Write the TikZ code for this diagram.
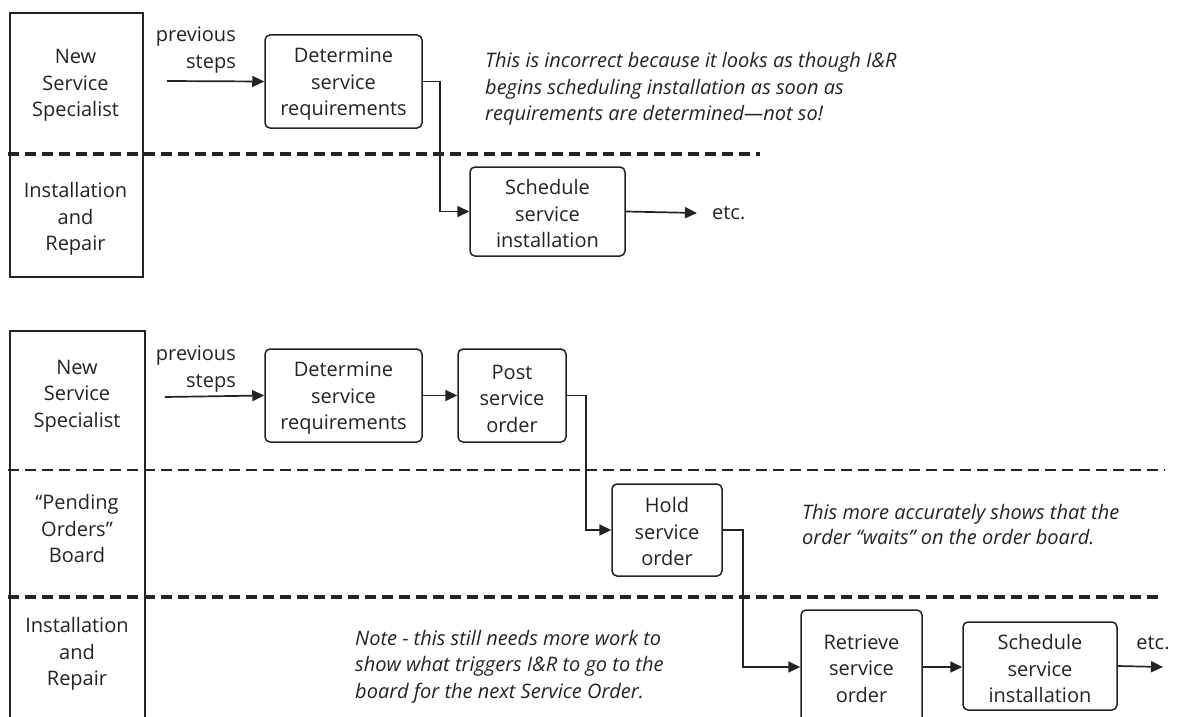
\documentclass[tikz,border=0pt]{standalone}
\usepackage{fontspec}
\setmainfont{Open Sans}
\usetikzlibrary{arrows.meta}
\definecolor{ink}{RGB}{35,35,35}
\tikzset{
  every node/.style={text=ink},
  txt/.style={font=\fontsize{20}{26.5}\selectfont, align=center, inner sep=0pt},
  itx/.style={font=\fontsize{20}{26.5}\selectfont\itshape, align=left, inner sep=0pt, anchor=west},
  procbox/.style={draw=ink, line width=1.5pt, rounded corners=5pt, txt, text depth=0pt},
  lanebox/.style={draw=ink, line width=1.4pt, inner sep=0pt},
  arr/.style={draw=ink, line width=1.7pt, -{Triangle[length=12pt,width=11pt]}},
  thickdash/.style={draw=ink, line width=3.5pt, dash pattern=on 11pt off 6pt},
  thindash/.style={draw=ink, line width=1.7pt, dash pattern=on 11pt off 6pt},
}
\begin{document}
\begin{tikzpicture}[x=1pt,y=-1pt]
\useasboundingbox (0,0) rectangle (1178,717);

% ---------- top diagram ----------
\node[lanebox, minimum width=133pt, minimum height=264pt] (lane1) at (76.5,145) {};
\node[txt] (l1a) at (75.5,85.5) {New\\Service\\Specialist};
\node[txt] (l1b) at (75.5,219) {Installation\\and\\Repair};
\coordinate (d1a) at (8,154);
\coordinate (d1b) at (760,154);
\draw[thickdash] (d1a) -- (d1b);

\node[txt, align=right, anchor=east] (prev1) at (236,50) {previous\\steps};
\coordinate (s1) at (167,81);
\node[procbox, minimum width=157pt, minimum height=93pt] (det1) at (343.5,81.5) {};
\node[txt] (det1t) at (343.5,84.5) {Determine\\service\\requirements};
\node[procbox, minimum width=155pt, minimum height=89pt] (sch1) at (547.5,211.5) {};
\node[txt] (sch1t) at (547.5,213.5) {Schedule\\service\\installation};
\node[txt, anchor=west] (etc1) at (712,213) {etc.};
\draw[arr] (s1) -- (det1.west);
\draw[arr] (det1.east) -- ++(17,0) |- (sch1.west);
\draw[arr] (sch1.east) -- ([xshift=-15pt]etc1.west);
\node[itx] (note1) at (485,89) {This is incorrect because it looks as though I\&R\\begins scheduling installation as soon as\\requirements are determined---not so!};

% ---------- bottom diagram ----------
\node[lanebox, minimum width=135pt, minimum height=409pt] (lane2) at (77.5,535.5) {};
\node[txt] (l2a) at (77,396) {New\\Service\\Specialist};
\node[txt] (l2b) at (77,528.5) {``Pending\\Orders''\\Board};
\node[txt] (l2c) at (77,654) {Installation\\and\\Repair};
\coordinate (d2a) at (8,470);
\coordinate (d2b) at (1165,470);
\draw[thindash] (d2a) -- (d2b);
\coordinate (d3a) at (8,597);
\coordinate (d3b) at (1163,597);
\draw[thickdash] (d3a) -- (d3b);

\node[txt, align=right, anchor=east] (prev2) at (236,369) {previous\\steps};
\coordinate (s2) at (165,397);
\node[procbox, minimum width=157pt, minimum height=93pt] (det2) at (343.5,395.5) {};
\node[txt] (det2t) at (343.5,398.5) {Determine\\service\\requirements};
\node[procbox, minimum width=108pt, minimum height=93pt] (post2) at (512,395.5) {};
\node[txt] (post2t) at (512,398.5) {Post\\service\\order};
\node[procbox, minimum width=110pt, minimum height=92pt] (hold2) at (667,530) {};
\node[txt] (hold2t) at (667,531.5) {Hold\\service\\order};
\node[procbox, minimum width=121pt, minimum height=114pt] (ret2) at (861.5,667) {};
\node[txt] (ret2t) at (861.5,668.5) {Retrieve\\service\\order};
\node[procbox, minimum width=154pt, minimum height=88pt] (sch2) at (1040,666) {};
\node[txt] (sch2t) at (1040,668.5) {Schedule\\service\\installation};
\coordinate (e2) at (1163,667);
\node[txt] (etc2) at (1153,643) {etc.};

\draw[arr] (s2) -- (det2.west);
\draw[arr] (det2.east) -- (post2.west);
\draw[arr] (post2.east) -- ++(19,0) |- (hold2.west);
\draw[arr] (hold2.east) -- ++(20,0) |- (ret2.west);
\draw[arr] (ret2.east) -- (ret2.east -| sch2.west);
\draw[arr] (sch2.east) -- (e2);

\node[itx, font=\fontsize{20}{25}\selectfont\itshape] (note2) at (802,524.5) {This more accurately shows that the\\order ``waits'' on the order board.};
\node[itx] (note3) at (355,666.5) {Note - this still needs more work to\\show what triggers I\&R to go to the\\board for the next Service Order.};
\end{tikzpicture}
\end{document}
